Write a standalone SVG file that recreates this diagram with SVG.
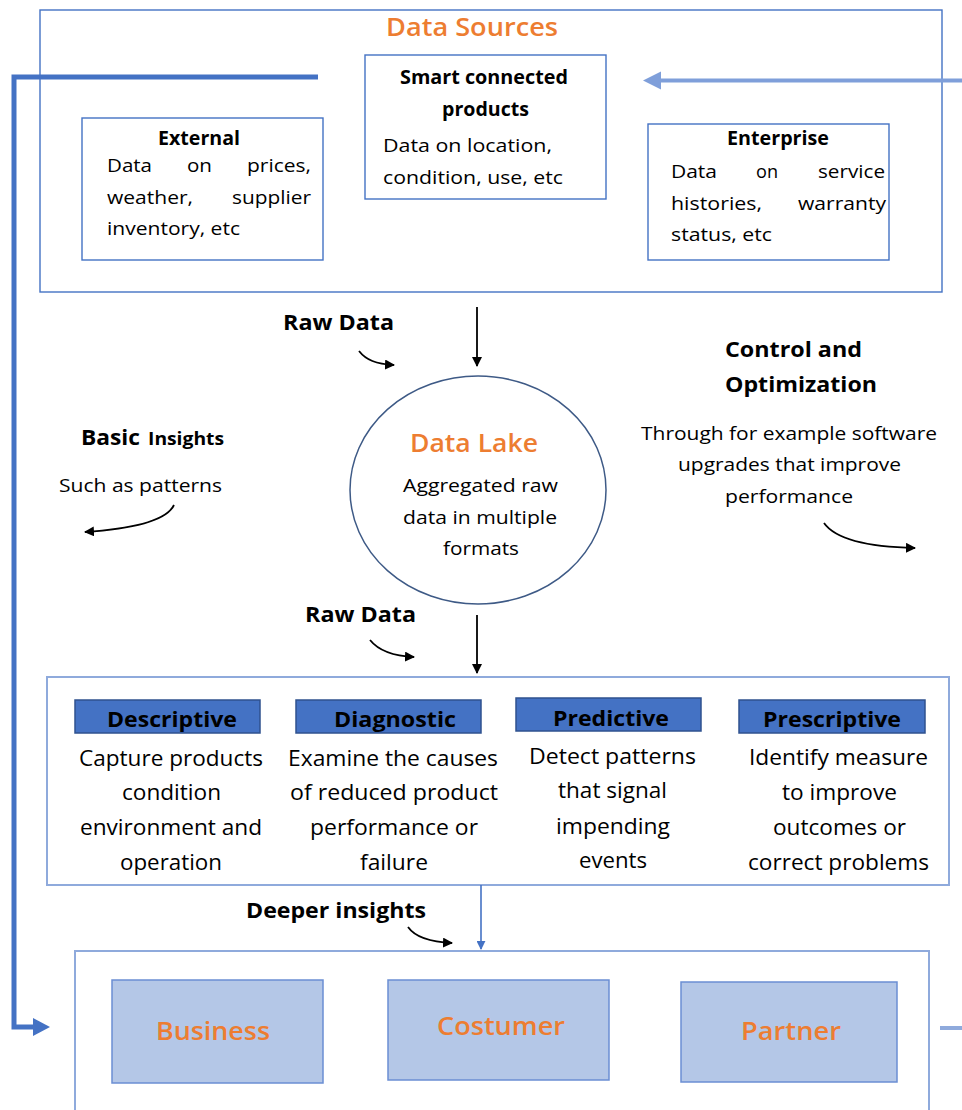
<svg xmlns="http://www.w3.org/2000/svg" width="962" height="1110" viewBox="0 0 962 1110">
  <defs>
    <style>
      text { font-family: "Open Sans", "Liberation Sans", sans-serif; fill: #000; }
      .b { font-weight: bold; }
      .sb { font-weight: 600; }
      .orange { fill: #ED7D31; }
      .frame { fill: #fff; stroke: #4472C4; stroke-width: 1.4; }
      .panel { fill: #fff; stroke: #8FAADC; stroke-width: 2; }
      .head { fill: #4472C4; stroke: #2F528F; stroke-width: 1.5; }
      .tile { fill: #B4C7E7; stroke: #6B8ED3; stroke-width: 1.5; }
      .blk { fill: none; stroke: #000; stroke-width: 1.8; }
    </style>
    <marker id="ah" viewBox="0 0 10 10" refX="9" refY="5" markerUnits="userSpaceOnUse" markerWidth="10" markerHeight="10" orient="auto">
      <path d="M0,0 L10,5 L0,10 z" fill="#000"/>
    </marker>
    <marker id="ahBlue" viewBox="0 0 10 10" refX="9" refY="5" markerUnits="userSpaceOnUse" markerWidth="9" markerHeight="9" orient="auto">
      <path d="M0,0 L10,5 L0,10 z" fill="#4472C4"/>
    </marker>
  </defs>

  <!-- Data sources frame -->
  <g id="data-sources">
    <rect class="frame" x="40" y="10" width="902" height="282"/>
    <text class="sb orange" x="386" y="36" font-size="25" textLength="172" lengthAdjust="spacingAndGlyphs">Data Sources</text>
  </g>

  <g id="smart-products">
    <rect class="frame" x="365" y="55" width="241" height="144"/>
    <text class="b" x="400" y="84" font-size="19" textLength="168" lengthAdjust="spacingAndGlyphs">Smart connected</text>
    <text class="b" x="442" y="116" font-size="19" textLength="87" lengthAdjust="spacingAndGlyphs">products</text>
    <text x="383" y="152" font-size="19" textLength="169" lengthAdjust="spacingAndGlyphs">Data on location,</text>
    <text x="383" y="184" font-size="19" textLength="180" lengthAdjust="spacingAndGlyphs">condition, use, etc</text>
  </g>

  <g id="external">
    <rect class="frame" x="82" y="118" width="241" height="142"/>
    <text class="b" x="158" y="145" font-size="19" textLength="82" lengthAdjust="spacingAndGlyphs">External</text>
    <text x="107" y="172" font-size="19" textLength="45" lengthAdjust="spacingAndGlyphs">Data</text>
    <text x="187" y="172" font-size="19" textLength="25" lengthAdjust="spacingAndGlyphs">on</text>
    <text x="247" y="172" font-size="19" textLength="64" lengthAdjust="spacingAndGlyphs">prices,</text>
    <text x="107" y="204" font-size="19" textLength="86" lengthAdjust="spacingAndGlyphs">weather,</text>
    <text x="232" y="204" font-size="19" textLength="79" lengthAdjust="spacingAndGlyphs">supplier</text>
    <text x="107" y="235" font-size="19" textLength="133" lengthAdjust="spacingAndGlyphs">inventory, etc</text>
  </g>

  <g id="enterprise">
    <rect class="frame" x="648" y="124" width="241" height="136"/>
    <text class="b" x="727" y="145" font-size="19" textLength="102" lengthAdjust="spacingAndGlyphs">Enterprise</text>
    <text x="671" y="178" font-size="19" textLength="46" lengthAdjust="spacingAndGlyphs">Data</text>
    <text x="756" y="178" font-size="19" textLength="22" lengthAdjust="spacingAndGlyphs">on</text>
    <text x="818" y="178" font-size="19" textLength="67" lengthAdjust="spacingAndGlyphs">service</text>
    <text x="671" y="210" font-size="19" textLength="91" lengthAdjust="spacingAndGlyphs">histories,</text>
    <text x="798" y="210" font-size="19" textLength="88" lengthAdjust="spacingAndGlyphs">warranty</text>
    <text x="671" y="241" font-size="19" textLength="101" lengthAdjust="spacingAndGlyphs">status, etc</text>
  </g>

  <!-- Data lake -->
  <g id="data-lake">
    <ellipse cx="478" cy="490" rx="128" ry="114" fill="#fff" stroke="#3E5A86" stroke-width="1.5"/>
    <text class="sb orange" x="410" y="452" font-size="25" textLength="128" lengthAdjust="spacingAndGlyphs">Data Lake</text>
    <text x="403" y="492" font-size="19" textLength="155" lengthAdjust="spacingAndGlyphs">Aggregated raw</text>
    <text x="403" y="524" font-size="19" textLength="154" lengthAdjust="spacingAndGlyphs">data in multiple</text>
    <text x="443" y="555" font-size="19" textLength="76" lengthAdjust="spacingAndGlyphs">formats</text>
  </g>

  <!-- Side annotations -->
  <g id="basic-insights">
    <text class="b" x="81" y="445" font-size="21" textLength="59" lengthAdjust="spacingAndGlyphs">Basic</text>
    <text class="b" x="148" y="445" font-size="18" textLength="76" lengthAdjust="spacingAndGlyphs">Insights</text>
    <text x="59" y="492" font-size="18" textLength="163" lengthAdjust="spacingAndGlyphs">Such as patterns</text>
  </g>

  <g id="control-optimization">
    <text class="b" x="725" y="357" font-size="22" textLength="137" lengthAdjust="spacingAndGlyphs">Control and</text>
    <text class="b" x="725" y="392" font-size="22" textLength="152" lengthAdjust="spacingAndGlyphs">Optimization</text>
    <text x="641" y="440" font-size="19" textLength="296" lengthAdjust="spacingAndGlyphs">Through for example software</text>
    <text x="678" y="471" font-size="19" textLength="223" lengthAdjust="spacingAndGlyphs">upgrades that improve</text>
    <text x="725" y="503" font-size="19" textLength="128" lengthAdjust="spacingAndGlyphs">performance</text>
  </g>

  <g id="raw-data-labels">
    <text class="b" x="283" y="330" font-size="22" textLength="111" lengthAdjust="spacingAndGlyphs">Raw Data</text>
    <text class="b" x="305" y="622" font-size="22" textLength="111" lengthAdjust="spacingAndGlyphs">Raw Data</text>
  </g>

  <!-- Analytics panel -->
  <g id="analytics">
    <rect class="panel" x="47" y="677" width="902" height="208"/>
  </g>

  <g id="descriptive">
    <rect class="head" x="75" y="700" width="185" height="33"/>
    <text class="b" x="107" y="727" font-size="22" textLength="130" lengthAdjust="spacingAndGlyphs">Descriptive</text>
    <text x="79" y="766" font-size="21" textLength="184" lengthAdjust="spacingAndGlyphs">Capture products</text>
    <text x="122" y="800" font-size="21" textLength="99" lengthAdjust="spacingAndGlyphs">condition</text>
    <text x="80" y="835" font-size="21" textLength="182" lengthAdjust="spacingAndGlyphs">environment and</text>
    <text x="120" y="870" font-size="21" textLength="102" lengthAdjust="spacingAndGlyphs">operation</text>
  </g>

  <g id="diagnostic">
    <rect class="head" x="296" y="700" width="185" height="33"/>
    <text class="b" x="334" y="727" font-size="22" textLength="122" lengthAdjust="spacingAndGlyphs">Diagnostic</text>
    <text x="288" y="766" font-size="21" textLength="210" lengthAdjust="spacingAndGlyphs">Examine the causes</text>
    <text x="290" y="800" font-size="21" textLength="208" lengthAdjust="spacingAndGlyphs">of reduced product</text>
    <text x="310" y="835" font-size="21" textLength="168" lengthAdjust="spacingAndGlyphs">performance or</text>
    <text x="360" y="870" font-size="21" textLength="68" lengthAdjust="spacingAndGlyphs">failure</text>
  </g>

  <g id="predictive">
    <rect class="head" x="516" y="698" width="185" height="33"/>
    <text class="b" x="553" y="726" font-size="22" textLength="116" lengthAdjust="spacingAndGlyphs">Predictive</text>
    <text x="529" y="764" font-size="21" textLength="167" lengthAdjust="spacingAndGlyphs">Detect patterns</text>
    <text x="558" y="798" font-size="21" textLength="109" lengthAdjust="spacingAndGlyphs">that signal</text>
    <text x="556" y="834" font-size="21" textLength="114" lengthAdjust="spacingAndGlyphs">impending</text>
    <text x="579" y="868" font-size="21" textLength="68" lengthAdjust="spacingAndGlyphs">events</text>
  </g>

  <g id="prescriptive">
    <rect class="head" x="739" y="700" width="186" height="33"/>
    <text class="b" x="763" y="727" font-size="22" textLength="138" lengthAdjust="spacingAndGlyphs">Prescriptive</text>
    <text x="749" y="765" font-size="21" textLength="179" lengthAdjust="spacingAndGlyphs">Identify measure</text>
    <text x="782" y="800" font-size="21" textLength="115" lengthAdjust="spacingAndGlyphs">to improve</text>
    <text x="773" y="835" font-size="21" textLength="133" lengthAdjust="spacingAndGlyphs">outcomes or</text>
    <text x="748" y="870" font-size="21" textLength="181" lengthAdjust="spacingAndGlyphs">correct problems</text>
  </g>

  <g id="deeper-insights">
    <text class="b" x="246" y="918" font-size="21" textLength="180" lengthAdjust="spacingAndGlyphs">Deeper insights</text>
  </g>

  <!-- Stakeholder panel -->
  <g id="stakeholders">
    <rect class="panel" x="75" y="951" width="854" height="200"/>
  </g>
  <g id="business">
    <rect class="tile" x="112" y="980" width="211" height="103"/>
    <text class="sb orange" x="156" y="1040" font-size="25" textLength="114" lengthAdjust="spacingAndGlyphs">Business</text>
  </g>
  <g id="costumer">
    <rect class="tile" x="388" y="980" width="221" height="100"/>
    <text class="sb orange" x="437" y="1035" font-size="25" textLength="128" lengthAdjust="spacingAndGlyphs">Costumer</text>
  </g>
  <g id="partner">
    <rect class="tile" x="681" y="982" width="216" height="100"/>
    <text class="sb orange" x="741" y="1040" font-size="25" textLength="100" lengthAdjust="spacingAndGlyphs">Partner</text>
  </g>

  <!-- Connectors -->
  <g id="connectors">
    <!-- feedback loop from data sources down to stakeholders -->
    <polyline points="318,77 14,77 14,1027 35,1027" fill="none" stroke="#4472C4" stroke-width="5"/>
    <polygon points="33,1018 50,1027 33,1036" fill="#4472C4"/>
    <!-- incoming loop on the right -->
    <line x1="962" y1="80.5" x2="659" y2="80.5" stroke="#7F9FDA" stroke-width="4"/>
    <polygon points="661,71.5 643,80.5 661,89.5" fill="#7F9FDA"/>
    <line x1="940" y1="1028" x2="962" y2="1028" stroke="#8FAADC" stroke-width="4"/>

    <!-- main flow -->
    <line class="blk" x1="477" y1="307" x2="477" y2="366" marker-end="url(#ah)"/>
    <line class="blk" x1="477" y1="615" x2="477" y2="673" marker-end="url(#ah)"/>
    <line x1="481" y1="885" x2="481" y2="949" stroke="#4472C4" stroke-width="1.6" marker-end="url(#ahBlue)"/>

    <!-- label pointers -->
    <path class="blk" d="M359,351 C366,360 376,364 394,365" marker-end="url(#ah)"/>
    <path class="blk" d="M370,640 C378,650 392,656 414,657" marker-end="url(#ah)"/>
    <path class="blk" d="M408,927 C415,937 430,942 452,943" marker-end="url(#ah)"/>
    <path class="blk" d="M174,505 C166,522 130,529 85,532" marker-end="url(#ah)"/>
    <path class="blk" d="M824,523 C836,540 870,547 915,548" marker-end="url(#ah)"/>
  </g>
</svg>
